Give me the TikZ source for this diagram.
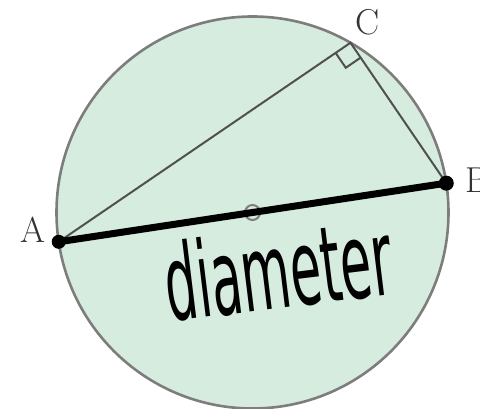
\documentclass[tikz,border=0pt]{standalone}
\usepackage{fontspec}
\newfontfamily\handfont{DejaVu Sans}
\usetikzlibrary{calc}
\definecolor{discfill}{RGB}{214,236,222}
\definecolor{rimgray}{RGB}{125,125,125}
\definecolor{chordgray}{RGB}{80,80,80}
\tikzset{
  rim/.style={draw=rimgray, line width=2.6pt},
  chord/.style={draw=chordgray, line width=2pt},
  diamline/.style={draw=black, line width=7pt, line cap=round},
  lbl/.style={inner sep=0pt, text=black!80, font=\fontsize{36}{36}\selectfont},
  hand/.style={inner sep=0pt, font=\handfont\fontsize{105}{105}\selectfont}
}
\begin{document}
\begin{tikzpicture}[x=1pt,y=1pt]
\useasboundingbox (0,0) rectangle (480,409);
\coordinate (O) at (252.5,196.5);
\fill[discfill] (O) circle[radius=196];
\draw[rim] (O) circle[radius=196];
\coordinate (A) at ($(O)+(188.6:196)$);
\coordinate (B) at ($(O)+(8.6:196)$);
\coordinate (C) at ($(O)+(60:196)$);
% chords
\draw[chord] (A) -- (C) -- (B);
% right angle mark
\coordinate (P1) at ($(C)!18pt!(A)$);
\coordinate (P3) at ($(C)!18pt!(B)$);
\coordinate (P2) at ($(P1)+(P3)-(C)$);
\draw[chord] (P1) -- (P2) -- (P3);
% centre mark
\draw[rimgray, line width=2pt] (O) circle[radius=7.5];
\fill[rimgray] (O) circle[radius=2];
% diameter
\draw[diamline] (A) -- (B);
\fill (A) circle[radius=7];
\fill (B) circle[radius=7.5];
% labels
\node[lbl] (labA) at (33,179) {A};
\node[lbl] (labB) at (477,229) {B};
\node[lbl] (labC) at (368,387) {C};
\node[hand, rotate=7] (diam) at (278,140) {\scalebox{0.48}[1]{diameter}};
\end{tikzpicture}
\end{document}
